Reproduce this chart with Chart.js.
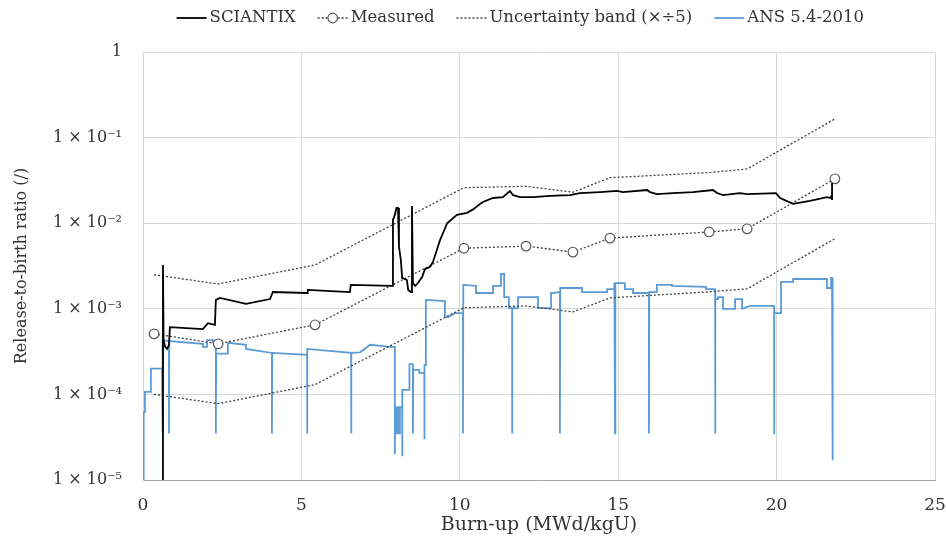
<!DOCTYPE html>
<html lang="en">
<head>
<meta charset="UTF-8">
<title>Release-to-birth ratio vs burn-up</title>
<script src="https://cdn.jsdelivr.net/npm/chart.js"></script>
<style>
  html, body { margin: 0; padding: 0; background: #ffffff; }
  #wrap { width: 946px; height: 543px; position: relative; }
</style>
</head>
<body>
<div id="wrap"><canvas id="ratioChart"></canvas></div>
<script>
// Measured release-to-birth ratios and the x/÷5 band around them
const measuredBurnup = [0.35, 2.37, 5.43, 10.13, 12.09, 13.57, 14.74, 17.87, 19.07, 21.84];
const measuredRatio  = [5.1e-4, 3.9e-4, 6.5e-4, 5.1e-3, 5.4e-3, 4.6e-3, 6.7e-3, 7.9e-3, 8.6e-3, 3.3e-2];
const bandUpper      = [2.5e-3, 1.95e-3, 3.25e-3, 2.6e-2, 2.7e-2, 2.3e-2, 3.4e-2, 3.9e-2, 4.3e-2, 0.165];
const bandLower      = [1.0e-4, 7.8e-5, 1.3e-4, 1.03e-3, 1.08e-3, 9.2e-4, 1.34e-3, 1.58e-3, 1.71e-3, 6.6e-3];

// SCIANTIX calculation, [burn-up, ratio]
const sciantix = [
  [0.63, 5e-6], [0.63, 3.25e-3], [0.65, 4.3e-4], [0.70, 3.6e-4], [0.76, 3.4e-4], [0.82, 3.8e-4],
  [0.85, 6.1e-4], [1.89, 5.8e-4], [2.05, 6.8e-4], [2.27, 6.5e-4], [2.30, 1.27e-3], [2.43, 1.34e-3],
  [3.25, 1.14e-3], [4.01, 1.30e-3], [4.10, 1.57e-3], [5.18, 1.53e-3], [5.20, 1.66e-3], [6.53, 1.57e-3],
  [6.56, 1.90e-3], [7.86, 1.85e-3], [7.89, 1.09e-2], [7.95, 1.25e-2], [8.00, 1.51e-2], [8.05, 1.51e-2],
  [8.08, 5.3e-3], [8.14, 3.7e-3], [8.18, 2.3e-3], [8.33, 2.17e-3], [8.37, 1.66e-3], [8.46, 1.57e-3],
  [8.49, 1.59e-2], [8.52, 2.0e-3], [8.59, 1.85e-3], [8.68, 2.0e-3], [8.81, 2.35e-3], [8.90, 2.9e-3],
  [9.06, 3.1e-3], [9.15, 3.5e-3], [9.38, 6.4e-3], [9.60, 1.0e-2], [9.91, 1.25e-2], [10.23, 1.32e-2],
  [10.42, 1.45e-2], [10.64, 1.68e-2], [10.73, 1.77e-2], [11.05, 1.97e-2], [11.36, 2.02e-2], [11.58, 2.38e-2],
  [11.68, 2.13e-2], [11.90, 2.02e-2], [12.31, 2.02e-2], [12.85, 2.08e-2], [13.48, 2.13e-2], [13.79, 2.25e-2],
  [14.43, 2.31e-2], [14.96, 2.38e-2], [15.15, 2.31e-2], [15.91, 2.44e-2], [16.00, 2.31e-2], [16.22, 2.19e-2],
  [16.73, 2.25e-2], [17.36, 2.31e-2], [17.99, 2.44e-2], [18.12, 2.25e-2], [18.31, 2.13e-2], [18.84, 2.25e-2],
  [19.07, 2.19e-2], [19.98, 2.25e-2], [20.11, 1.97e-2], [20.52, 1.68e-2], [21.05, 1.82e-2], [21.59, 2.02e-2],
  [21.69, 1.97e-2], [21.75, 2.13e-2], [21.75, 2.95e-2], [21.75, 1.87e-2]
];

// ANS 5.4-2010 model, [burn-up, ratio]
const ans = [
  [0, 1e-5], [0, 3.8e-5], [0.03, 3.8e-5], [0.03, 6.2e-5], [0.06, 6.2e-5], [0.06, 1.07e-4], [0.25, 1.07e-4],
  [0.25, 2.0e-4], [0.60, 2.0e-4], [0.60, 4.3e-4], [0.63, 4.3e-4], [0.63, 3.6e-5], [0.64, 4.3e-4], [0.82, 4.2e-4],
  [0.82, 3.5e-5], [0.83, 4.2e-4], [1.89, 3.9e-4], [1.89, 3.6e-4], [2.02, 3.6e-4], [2.02, 4.3e-4], [2.21, 4.3e-4],
  [2.21, 4.1e-4], [2.30, 4.1e-4], [2.30, 3.5e-5], [2.31, 3.0e-4], [2.68, 3.0e-4], [2.68, 4.0e-4], [3.25, 3.8e-4],
  [3.25, 3.4e-4], [4.07, 3.05e-4], [4.07, 3.5e-5], [4.08, 3.05e-4], [5.18, 2.9e-4], [5.18, 3.5e-5], [5.19, 3.4e-4],
  [6.57, 3.05e-4], [6.57, 3.5e-5], [6.58, 3.05e-4], [6.85, 3.1e-4], [7.17, 3.8e-4], [7.80, 3.6e-4], [7.95, 3.6e-4],
  [7.95, 2.0e-5], [7.96, 7.1e-5], [7.99, 7.1e-5], [7.99, 3.5e-5], [8.02, 3.5e-5], [8.02, 7.1e-5], [8.08, 7.1e-5],
  [8.08, 3.5e-5], [8.11, 3.5e-5], [8.11, 7.1e-5], [8.18, 7.1e-5], [8.18, 1.9e-5], [8.19, 1.13e-4], [8.41, 1.13e-4],
  [8.41, 2.26e-4], [8.52, 2.26e-4], [8.52, 3.5e-5], [8.53, 1.93e-4], [8.72, 1.93e-4], [8.72, 1.78e-4], [8.88, 1.78e-4],
  [8.88, 3.0e-5], [8.89, 2.2e-4], [8.93, 2.2e-4], [8.93, 1.27e-3], [9.53, 1.23e-3], [9.53, 8.0e-4], [9.63, 8.0e-4],
  [9.85, 8.9e-4], [10.10, 8.9e-4], [10.10, 3.5e-5], [10.11, 1.9e-3], [10.51, 1.85e-3], [10.51, 1.53e-3], [11.05, 1.53e-3],
  [11.05, 1.85e-3], [11.30, 1.85e-3], [11.30, 2.55e-3], [11.40, 2.55e-3], [11.40, 1.37e-3], [11.55, 1.37e-3],
  [11.55, 1.02e-3], [11.65, 1.02e-3], [11.65, 3.5e-5], [11.66, 1.02e-3], [11.84, 1.02e-3], [11.84, 1.37e-3],
  [12.47, 1.37e-3], [12.47, 1.02e-3], [12.88, 1.02e-3], [12.88, 1.53e-3], [13.16, 1.57e-3], [13.16, 3.5e-5],
  [13.17, 1.75e-3], [13.86, 1.75e-3], [13.86, 1.57e-3], [14.65, 1.57e-3], [14.65, 1.70e-3], [14.88, 1.70e-3],
  [14.88, 2.0e-3], [14.90, 3.5e-5], [14.91, 2.0e-3], [15.21, 2.0e-3], [15.21, 1.70e-3], [15.47, 1.70e-3],
  [15.47, 1.53e-3], [15.97, 1.53e-3], [15.97, 3.5e-5], [15.98, 1.57e-3], [16.22, 1.57e-3], [16.22, 1.90e-3],
  [16.70, 1.90e-3], [16.70, 1.85e-3], [17.77, 1.80e-3], [17.77, 1.70e-3], [18.06, 1.70e-3], [18.06, 3.5e-5],
  [18.07, 1.30e-3], [18.15, 1.30e-3], [18.15, 1.37e-3], [18.31, 1.37e-3], [18.31, 1.0e-3], [18.69, 1.0e-3],
  [18.69, 1.30e-3], [18.91, 1.30e-3], [18.91, 1.0e-3], [19.16, 1.08e-3], [19.92, 1.08e-3], [19.92, 3.45e-5],
  [19.93, 8.9e-4], [20.14, 8.9e-4], [20.14, 2.06e-3], [20.52, 2.06e-3], [20.52, 2.23e-3], [21.59, 2.23e-3],
  [21.59, 1.75e-3], [21.72, 1.75e-3], [21.72, 2.29e-3], [21.75, 2.29e-3], [21.75, 6.6e-5], [21.78, 6.6e-5],
  [21.78, 1.7e-5]
];

// axis ticks
const xTicks = [0, 5, 10, 15, 20, 25];
const yDecades = [1e-5, 1e-4, 1e-3, 1e-2, 1e-1, 1];
const yTickLabels = ['1 × 10⁻⁵', '1 × 10⁻⁴', '1 × 10⁻³', '1 × 10⁻²', '1 × 10⁻¹', '1'];

const FONT = '"DejaVu Serif", serif';
const TEXT = '#333333';
const GRID = '#d9d9d9';

const toXY = pts => pts.map(p => ({ x: p[0], y: p[1] }));
const zipXY = (xs, ys) => xs.map((x, i) => ({ x: x, y: ys[i] }));

// legend drawn above the plot: icon (line, dash, marker) + label per entry
const topLegend = {
    id: 'topLegend',
    afterDraw(chart) {
        const ctx = chart.ctx;
        const entries = chart.data.datasets.filter(d => d.inLegend);
        const icon = 30, gapIcon = 3, gapItem = 22, y = 18;
        ctx.save();
        ctx.font = '16.5px ' + FONT;
        ctx.textBaseline = 'middle';
        const widths = entries.map(d => icon + gapIcon + ctx.measureText(d.label).width);
        const total = widths.reduce((a, b) => a + b, 0) + gapItem * (entries.length - 1);
        let x = chart.width * 0.55 - total / 2;
        entries.forEach((d, i) => {
            ctx.save();
            ctx.strokeStyle = d.borderColor;
            ctx.lineWidth = d.borderWidth;
            ctx.setLineDash(d.borderDash || []);
            ctx.beginPath();
            ctx.moveTo(x, y);
            ctx.lineTo(x + icon, y);
            ctx.stroke();
            if (d.pointRadius > 0) {
                ctx.setLineDash([]);
                ctx.lineWidth = d.pointBorderWidth;
                ctx.strokeStyle = d.pointBorderColor;
                ctx.fillStyle = d.pointBackgroundColor;
                ctx.beginPath();
                ctx.arc(x + icon / 2, y, d.pointRadius, 0, Math.PI * 2);
                ctx.fill();
                ctx.stroke();
            }
            ctx.restore();
            ctx.fillStyle = TEXT;
            ctx.fillText(d.label, x + icon + gapIcon, y);
            x += widths[i] + gapItem;
        });
        ctx.restore();
    }
};

new Chart(document.getElementById('ratioChart'), {
    type: 'line',
    data: {
        datasets: [
            {
                label: 'SCIANTIX',
                inLegend: true,
                data: toXY(sciantix),
                borderColor: '#000000',
                borderWidth: 1.8,
                pointRadius: 0
            },
            {
                label: 'Measured',
                inLegend: true,
                data: zipXY(measuredBurnup, measuredRatio),
                borderColor: '#404040',
                borderWidth: 1.3,
                borderDash: [2, 2],
                pointRadius: 4.8,
                pointBorderWidth: 1.2,
                pointBorderColor: '#595959',
                pointBackgroundColor: '#ffffff'
            },
            {
                label: 'Uncertainty band (×÷5)',
                inLegend: true,
                data: zipXY(measuredBurnup, bandUpper),
                borderColor: '#404040',
                borderWidth: 1.3,
                borderDash: [2, 2],
                pointRadius: 0
            },
            {
                label: 'Uncertainty band (×÷5)',
                inLegend: false,
                data: zipXY(measuredBurnup, bandLower),
                borderColor: '#404040',
                borderWidth: 1.3,
                borderDash: [2, 2],
                pointRadius: 0
            },
            {
                label: 'ANS 5.4-2010',
                inLegend: true,
                data: toXY(ans),
                borderColor: '#5b9bd5',
                borderWidth: 1.8,
                pointRadius: 0
            }
        ]
    },
    options: {
        responsive: true,
        maintainAspectRatio: false,
        animation: false,
        layout: { padding: { top: 52, right: 11, left: 0, bottom: 0 } },
        plugins: {
            legend: { display: false },
            tooltip: { enabled: false }
        },
        scales: {
            x: {
                type: 'linear',
                min: 0,
                max: 25,
                afterBuildTicks: s => { s.ticks = xTicks.map(v => ({ value: v })); },
                afterFit: s => { s.height = 63; s.paddingLeft = 0; s.paddingRight = 0; },
                grid: { color: GRID, drawTicks: false },
                border: { color: '#a6a6a6' },
                ticks: { padding: 15, color: TEXT, font: { family: FONT, size: 17 } },
                title: {
                    display: true,
                    text: 'Burn-up (MWd/kgU)',
                    color: TEXT,
                    font: { family: FONT, size: 19 },
                    padding: { top: 0, bottom: 7 }
                }
            },
            y: {
                type: 'logarithmic',
                min: 1e-5,
                max: 1,
                afterBuildTicks: s => { s.ticks = yDecades.map(v => ({ value: v })); },
                afterFit: s => { s.width = 143; },
                grid: { color: GRID, drawTicks: false },
                border: { color: GRID },
                ticks: {
                    padding: 21,
                    color: TEXT,
                    font: { family: FONT, size: 16 },
                    callback: v => yTickLabels[yDecades.findIndex(d => Math.abs(Math.log10(d) - Math.log10(v)) < 1e-6)]
                },
                title: {
                    display: true,
                    text: 'Release-to-birth ratio (/)',
                    color: TEXT,
                    font: { family: FONT, size: 16 },
                    padding: { top: 12, bottom: 0 }
                }
            }
        }
    },
    plugins: [topLegend]
});
</script>
</body>
</html>
